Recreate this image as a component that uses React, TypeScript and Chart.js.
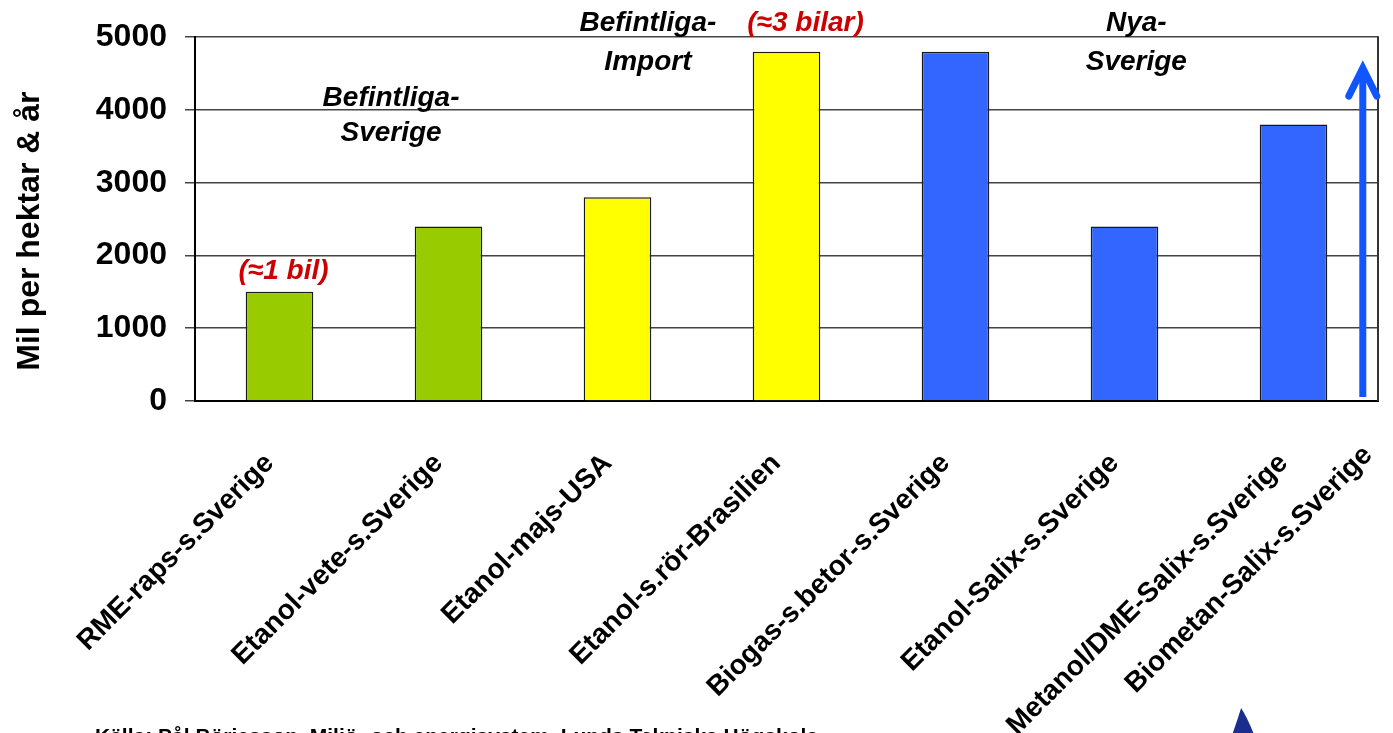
import React, { useEffect, useRef } from 'react';
import { Chart, registerables } from 'chart.js';

Chart.register(...registerables);

// Fuel production chains shown as bars
const fuelPaths = [
  'RME-raps-s.Sverige',
  'Etanol-vete-s.Sverige',
  'Etanol-majs-USA',
  'Etanol-s.rör-Brasilien',
  'Biogas-s.betor-s.Sverige',
  'Etanol-Salix-s.Sverige',
  'Metanol/DME-Salix-s.Sverige',
];
// Chain named past the last bar, next to the upward arrow
const trailingPath = 'Biometan-Salix-s.Sverige';

// Driving distance (mil) per hectare and year
const milPerHektar = [1500, 2400, 2800, 4800, 4800, 2400, 3800];

const barColors = ['#99CC00', '#99CC00', '#FFFF00', '#FFFF00', '#3366FF', '#3366FF', '#3366FF'];

const carNotes = ['(≈1 bil)', '(≈3 bilar)'];
const groupNotes = [
  ['Befintliga-', 'Sverige'],
  ['Befintliga-', 'Import'],
  ['Nya-', 'Sverige'],
];
const yTitle = 'Mil per hektar & år';
const sourceText = 'Källa: Pål Börjesson, Miljö- och energisystem, Lunds Tekniska Högskola';

const FONT = "'Liberation Sans', Arial, Helvetica, sans-serif";
const X_TICK_SIZE = 28;
const X_TICK_PAD = 38;
const X_TICK_SHIFT = -10;

const overlay = {
  id: 'overlay',
  afterDraw(chart: any) {
    const { ctx, chartArea, scales } = chart;
    const x = scales.x;
    const y = scales.y;
    const step = x.getPixelForValue(1) - x.getPixelForValue(0);
    ctx.save();

    // right frame of the plot
    ctx.strokeStyle = '#333';
    ctx.lineWidth = 2;
    ctx.beginPath();
    ctx.moveTo(chartArea.right, chartArea.top - 1);
    ctx.lineTo(chartArea.right, chartArea.bottom);
    ctx.stroke();

    // car-equivalent notes above bars
    ctx.font = `italic bold 28px ${FONT}`;
    ctx.textAlign = 'center';
    ctx.textBaseline = 'middle';
    ctx.fillStyle = '#CC0000';
    ctx.fillText(carNotes[0], x.getPixelForValue(0) + 4, y.getPixelForValue(milPerHektar[0]) - 21);
    ctx.fillText(carNotes[1], x.getPixelForValue(3) + 19, y.getPixelForValue(milPerHektar[3]) - 28);

    // group headings
    ctx.fillStyle = '#000';
    const groupPos = [
      [0.66, 4164, 3685],
      [2.18, 5192, 4658],
      [5.07, 5192, 4658],
    ];
    groupNotes.forEach((lines, i) => {
      const [ci, v1, v2] = groupPos[i];
      const gx = x.getPixelForValue(ci);
      ctx.fillText(lines[0], gx, y.getPixelForValue(v1));
      ctx.fillText(lines[1], gx, y.getPixelForValue(v2));
    });

    // trailing category label, drawn like the rotated ticks
    const lx = x.getPixelForValue(6) + step * 0.43 + X_TICK_SHIFT;
    ctx.save();
    ctx.font = `bold ${X_TICK_SIZE}px ${FONT}`;
    ctx.translate(lx, x.top + X_TICK_PAD);
    ctx.rotate(-Math.PI / 4);
    ctx.textAlign = 'right';
    ctx.textBaseline = 'middle';
    ctx.fillText(trailingPath, 0, (X_TICK_SIZE * 1.2) / 2);
    ctx.restore();

    // upward arrow
    const ax = x.getPixelForValue(6) + step * 0.41;
    const yTop = y.getPixelForValue(4575);
    const yBot = y.getPixelForValue(55);
    ctx.strokeStyle = '#1155FF';
    ctx.lineWidth = 7;
    ctx.lineCap = 'butt';
    ctx.beginPath();
    ctx.moveTo(ax, yBot);
    ctx.lineTo(ax, yTop + 4);
    ctx.stroke();
    ctx.lineCap = 'round';
    ctx.lineJoin = 'miter';
    ctx.beginPath();
    ctx.moveTo(ax - 14, yTop + 28);
    ctx.lineTo(ax, yTop);
    ctx.lineTo(ax + 14, yTop + 28);
    ctx.stroke();

    // y axis title
    ctx.save();
    ctx.font = `bold 32px ${FONT}`;
    ctx.fillStyle = '#000';
    ctx.translate(30, (chartArea.top + chartArea.bottom) / 2 + 12);
    ctx.rotate(-Math.PI / 2);
    ctx.textAlign = 'center';
    ctx.textBaseline = 'middle';
    ctx.fillText(yTitle, 0, 0);
    ctx.restore();

    // logo tip at the bottom edge
    const h = chart.height;
    const sx = x.getPixelForValue(5) + step * 0.69;
    ctx.fillStyle = '#1B2E8E';
    ctx.beginPath();
    ctx.moveTo(sx, h - 25);
    ctx.quadraticCurveTo(sx - 4, h - 12, sx - 9, h + 2);
    ctx.lineTo(sx + 13, h + 2);
    ctx.quadraticCurveTo(sx + 7, h - 14, sx, h - 25);
    ctx.fill();

    // source line
    ctx.font = `bold 21px ${FONT}`;
    ctx.fillStyle = '#000';
    ctx.textAlign = 'left';
    ctx.textBaseline = 'top';
    ctx.fillText(sourceText, 95, h - 6);

    ctx.restore();
  },
};

export default function App() {
  const canvasRef = useRef<HTMLCanvasElement | null>(null);

  useEffect(() => {
    document.body.style.margin = '0';
    const canvas = canvasRef.current;
    if (!canvas) return;
    const chart = new Chart(canvas, {
      type: 'bar',
      data: {
        labels: fuelPaths,
        datasets: [
          {
            data: milPerHektar,
            backgroundColor: barColors,
            borderColor: '#1a1a1a',
            borderWidth: 1.5,
            categoryPercentage: 1,
            barPercentage: 0.4,
          },
        ],
      },
      options: {
        responsive: false,
        animation: false,
        devicePixelRatio: 1,
        layout: { padding: { top: 36, right: 15, left: 0, bottom: 0 } },
        plugins: {
          legend: { display: false },
          tooltip: { enabled: false },
        },
        scales: {
          x: {
            grid: { display: false },
            border: { display: true, color: '#000', width: 2 },
            ticks: {
              color: '#000',
              minRotation: 45,
              maxRotation: 45,
              autoSkip: false,
              padding: X_TICK_PAD,
              labelOffset: X_TICK_SHIFT,
              font: { family: FONT, size: X_TICK_SIZE, weight: 'bold' },
            },
            afterFit: (scale: any) => {
              scale.height = 332;
            },
          },
          y: {
            min: 0,
            max: 5000,
            ticks: {
              stepSize: 1000,
              color: '#000',
              padding: 18,
              font: { family: FONT, size: 32, weight: 'bold' },
              callback: (v: any) => String(v),
            },
            grid: { color: '#444', lineWidth: 1.5, tickLength: 10 },
            border: { display: true, color: '#000', width: 2 },
            afterFit: (scale: any) => {
              scale.width = 195;
            },
          },
        },
      },
      plugins: [overlay],
    });
    return () => chart.destroy();
  }, []);

  return (
    <div style={{ position: 'absolute', left: 0, top: 0, width: 1393, height: 733, background: '#fff' }}>
      <canvas ref={canvasRef} width={1393} height={733} style={{ display: 'block' }} />
    </div>
  );
}
